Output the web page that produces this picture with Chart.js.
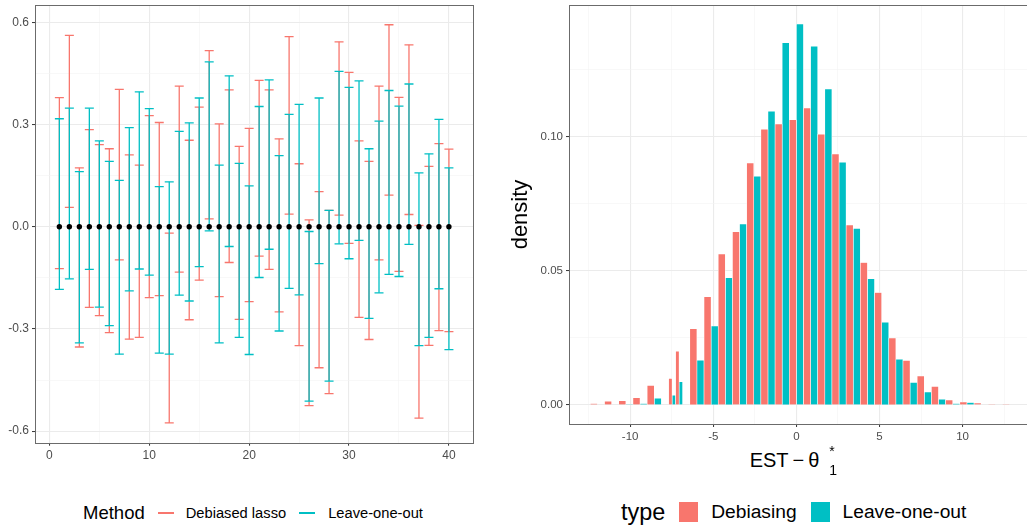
<!DOCTYPE html>
<html><head><meta charset="utf-8">
<script src="https://cdn.jsdelivr.net/npm/chart.js@4"></script>
<style>
html,body{margin:0;padding:0;background:#fff;overflow:hidden;width:1027px;height:527px;}
body{position:relative;font-family:"Liberation Sans",Arial,sans-serif;color:#000;}
canvas{position:absolute;}
#c1{left:0;top:0;}
#c2{left:490px;top:0;}
.leg{position:absolute;display:flex;align-items:center;white-space:nowrap;height:24px;}
.sw-line{display:inline-block;height:1.4px;}
.sw-box{display:inline-block;width:19px;height:20px;}
#xt{position:absolute;left:699px;width:190px;top:450px;text-align:center;font-size:20px;line-height:20px;white-space:nowrap;}
.ss{position:relative;display:inline-block;width:9px;height:20px;vertical-align:top;margin-left:10px;}
.ss .sup{position:absolute;left:0px;top:-6px;font-size:14px;line-height:14px;}
.ss .sub{position:absolute;left:0px;top:13px;font-size:14px;line-height:14px;}
</style></head>
<body>
<canvas id="c1" width="480" height="470"></canvas>
<canvas id="c2" width="560" height="445"></canvas>
<div id="legL" class="leg" style="left:83px;top:501px;"></div>
<div id="legR" class="leg" style="left:621px;top:500px;"></div>
<div id="xt">EST&#8201;&#8722;&#8201;&#952;<span class="ss"><span class="sup">*</span><span class="sub">1</span></span></div>
<script>
// ---------- Left panel data ----------
const pointIndex = [1,2,3,4,5,6,7,8,9,10,11,12,13,14,15,16,17,18,19,20,21,22,23,24,25,26,27,28,29,30,31,32,33,34,35,36,37,38,39,40];
const pointEstimate = [0,0,0,0,0,0,0,0,0,0,0,0,0,0,0,0,0,0,0,0,0,0,0,0,0,0,0,0,0,0,0,0,0,0,0,0,0,0,0,0];
const debiasedLower = [-0.123,0.057,-0.353,-0.237,-0.261,-0.311,-0.097,-0.330,-0.325,-0.208,-0.202,-0.576,-0.133,-0.273,-0.157,0.023,-0.205,-0.105,-0.272,-0.220,-0.086,-0.125,-0.250,0.037,-0.349,-0.525,-0.414,-0.490,0.034,-0.049,-0.266,-0.331,-0.097,0.093,-0.131,0.036,-0.562,-0.348,-0.305,-0.308];
const debiasedUpper = [0.379,0.562,0.173,0.285,0.241,0.229,0.403,0.211,0.181,0.326,0.306,-0.019,0.413,0.254,0.351,0.517,0.302,0.402,0.236,0.289,0.430,0.402,0.258,0.558,0.185,0.020,0.103,0.048,0.543,0.453,0.252,0.192,0.413,0.593,0.380,0.534,0.004,0.177,0.244,0.228];
const looLower = [-0.184,-0.153,-0.341,-0.125,-0.236,-0.290,-0.374,-0.188,-0.124,-0.142,-0.371,-0.374,-0.201,-0.218,-0.117,-0.012,-0.341,-0.058,-0.325,-0.375,-0.149,-0.066,-0.306,-0.181,-0.200,-0.512,-0.108,-0.453,-0.050,-0.094,-0.040,-0.269,-0.194,-0.140,-0.146,-0.052,-0.349,-0.325,-0.182,-0.361];
const looUpper = [0.317,0.348,0.162,0.348,0.252,0.192,0.136,0.291,0.396,0.347,0.118,0.132,0.280,0.305,0.378,0.484,0.181,0.443,0.186,0.120,0.353,0.431,0.209,0.330,0.359,-0.014,0.378,0.048,0.456,0.409,0.428,0.229,0.310,0.400,0.354,0.419,0.158,0.214,0.315,0.173];
const methodNames = ['Debiased lasso','Leave-one-out'];
const leftXMajor = [0,10,20,30,40];
const leftXMinor = [5,15,25,35];
const leftYMajor = [-0.6,-0.3,0,0.3,0.6];
const leftYMinor = [-0.45,-0.15,0.15,0.45];

// ---------- Right panel data ----------
const binCenters = [-11.97,-11.115,-10.26,-9.405,-8.55,-7.695,-6.84,-5.985,-5.13,-4.275,-3.42,-2.565,-1.71,-0.855,0,0.855,1.71,2.565,3.42,4.275,5.13,5.985,6.84,7.695,8.55,9.405,10.26,11.115,11.97,12.825];
const debiasingDensity = [0.0005,0.0014,0.0016,0.0027,0.0073,null,null,0.0284,0.0403,0.0563,0.0646,0.0902,0.1028,0.1047,0.1063,0.1107,0.1009,0.0936,0.0671,0.0531,0.0419,0.0250,0.0166,0.0108,0.0069,0.0019,0.0011,0.0007,0.0002,0.0002];
const looDensity = [0,0,0.0002,0.0005,0.0025,null,null,0.0167,0.0294,0.0474,0.0675,0.0853,0.1095,0.1350,0.1420,0.1337,0.1178,0.0905,0.0658,0.0471,0.0308,0.0170,0.0084,0.0048,0.0021,0.0005,0.0009,0,0,0];
const splitBinCenters = [-7.475,-7.055];
const splitDebiasing = [0.0099,0.0200];
const splitLoo = [0.0036,0.0087];
const typeNames = ['Debiasing','Leave-one-out'];
const rightXMajor = [-10,-5,0,5,10];
const rightXMinor = [-12.5,-7.5,-2.5,2.5,7.5,12.5];
const rightYMajor = [0,0.05,0.10];
const rightYMinor = [0.025,0.075,0.125];

const RED = '#F8766D', TEAL = '#00BFC4';
const FONT = 'Liberation Sans';

function tickSet(major, minor){
  return s => {
    const vals = major.concat(minor).sort((a,b)=>a-b);
    s.ticks = vals.map(v=>({value:v}));
  };
}
function fitTo(prop, size){
  return s => {
    s[prop] = size;
    s.paddingTop = 0; s.paddingBottom = 0; s.paddingLeft = 0; s.paddingRight = 0;
  };
}
function gridFor(major, minor){
  const isMaj = c => c.tick && major.includes(c.tick.value);
  const isMin = c => c.tick && minor.includes(c.tick.value);
  return {
    color: c => isMaj(c) ? '#EBEBEB' : (isMin(c) ? '#F4F4F4' : 'rgba(0,0,0,0)'),
    lineWidth: c => isMaj(c) ? 1.1 : 0.6,
    tickColor: c => isMaj(c) ? '#333333' : 'rgba(0,0,0,0)',
    tickWidth: 1,
    tickLength: 3,
    drawTicks: true,
    offset: false
  };
}
function ticksFor(major, fmt, size){
  return {autoSkip:false, maxRotation:0, minRotation:0, padding:3, color:'#4D4D4D',
    font:{family:FONT, size:size},
    callback: v => major.includes(v) ? fmt(v) : ''};
}
const frame = {
  id:'frame',
  afterDatasetsDraw(chart){
    const {ctx, chartArea:a} = chart;
    ctx.save(); ctx.strokeStyle = '#6b6b6b'; ctx.lineWidth = 1;
    ctx.strokeRect(Math.round(a.left)+0.5, Math.round(a.top)+0.5, Math.round(a.right-a.left), Math.round(a.bottom-a.top));
    ctx.restore();
  }
};

function intervalPoints(lo, hi){
  const pts = [];
  pointIndex.forEach((x,i) => { pts.push({x:x, y:lo[i]}, {x:x, y:hi[i]}, {x:x, y:null}); });
  return pts;
}
function intervalDataset(label, lo, hi, color, order){
  return {type:'line', label:label, data:intervalPoints(lo, hi), borderColor:color, borderWidth:1.3,
    pointStyle:'line', pointRadius:4.5, pointBorderColor:color, pointBorderWidth:1.3, pointBackgroundColor:color,
    pointHoverRadius:4.5, spanGaps:false, tension:0, order:order};
}

new Chart(document.getElementById('c1'), {
  type:'line',
  data:{datasets:[
    {type:'line', label:'estimate', data:pointIndex.map((x,i)=>({x:x, y:pointEstimate[i]})), showLine:false,
      pointRadius:2.7, pointStyle:'circle', pointBackgroundColor:'#000', pointBorderColor:'#000', pointBorderWidth:0, order:0},
    intervalDataset(methodNames[1], looLower, looUpper, TEAL, 1),
    intervalDataset(methodNames[0], debiasedLower, debiasedUpper, RED, 2)
  ]},
  options:{
    responsive:false, animation:false, devicePixelRatio:1,
    layout:{autoPadding:false, padding:{top:5, right:6.7, left:0, bottom:0}},
    plugins:{legend:{display:false}, tooltip:{enabled:false}},
    scales:{
      x:{type:'linear', min:-1.44, max:42.44, offset:false,
        afterBuildTicks:tickSet(leftXMajor, leftXMinor), afterFit:fitTo('height', 27.3),
        grid:gridFor(leftXMajor, leftXMinor), border:{display:false},
        ticks:ticksFor(leftXMajor, v=>String(v), 12)},
      y:{type:'linear', min:-0.634, max:0.651,
        afterBuildTicks:tickSet(leftYMajor, leftYMinor), afterFit:fitTo('width', 35),
        grid:gridFor(leftYMajor, leftYMinor), border:{display:false},
        ticks:ticksFor(leftYMajor, v=>v.toFixed(1), 12)}
    }
  },
  plugins:[frame]
});

function barDs(label, centers, vals, color, stack, thick){
  return {label:label, data:centers.map((x,i)=>({x:x, y:vals[i]})), backgroundColor:color,
    borderColor:'#ffffff', borderWidth:0.6, borderSkipped:'start', stack:stack, barThickness:thick};
}
new Chart(document.getElementById('c2'), {
  type:'bar',
  data:{datasets:[
    barDs(typeNames[0], binCenters, debiasingDensity, RED, 'deb', 7.1),
    barDs(typeNames[1], binCenters, looDensity, TEAL, 'loo', 7.1),
    barDs(typeNames[0], splitBinCenters, splitDebiasing, RED, 'deb', 3.5),
    barDs(typeNames[1], splitBinCenters, splitLoo, TEAL, 'loo', 3.5)
  ]},
  options:{
    responsive:false, animation:false, devicePixelRatio:1,
    layout:{autoPadding:false, padding:{top:5, right:12.1, left:0, bottom:0}},
    plugins:{legend:{display:false}, tooltip:{enabled:false}},
    scales:{
      x:{type:'linear', min:-13.68, max:14.53, offset:false,
        afterBuildTicks:tickSet(rightXMajor, rightXMinor), afterFit:fitTo('height', 21),
        grid:gridFor(rightXMajor, rightXMinor), border:{display:false},
        ticks:ticksFor(rightXMajor, v=>String(v), 11.5)},
      y:{type:'linear', min:-0.0071, max:0.1491, stacked:false, beginAtZero:false,
        afterBuildTicks:tickSet(rightYMajor, rightYMinor), afterFit:fitTo('width', 79),
        grid:gridFor(rightYMajor, rightYMinor), border:{display:false},
        title:{display:true, text:'density', color:'#000', font:{family:FONT, size:22}, padding:{top:18, bottom:0}},
        ticks:ticksFor(rightYMajor, v=>v.toFixed(2), 11.5)}
    }
  },
  plugins:[frame]
});

// ---------- HTML legends ----------
function addText(el, txt, size, mr){
  const s = document.createElement('span'); s.textContent = txt;
  s.style.fontSize = size + 'px'; s.style.marginRight = mr + 'px'; s.style.lineHeight = '24px';
  el.appendChild(s);
}
function addSwatch(el, cls, color, w, mr){
  const s = document.createElement('span'); s.className = cls; s.style.background = color;
  if (w) s.style.width = w + 'px';
  s.style.marginRight = mr + 'px'; el.appendChild(s);
}
const legL = document.getElementById('legL');
addText(legL, 'Method', 18.5, 13);
addSwatch(legL, 'sw-line', RED, 16, 12);
addText(legL, methodNames[0], 14.7, 13);
addSwatch(legL, 'sw-line', TEAL, 16, 13);
addText(legL, methodNames[1], 14.7, 0);

const legR = document.getElementById('legR');
addText(legR, 'type', 23.4, 14);
addSwatch(legR, 'sw-box', RED, 0, 13);
addText(legR, typeNames[0], 19.2, 14);
addSwatch(legR, 'sw-box', TEAL, 0, 13);
addText(legR, typeNames[1], 19.2, 0);
</script>
</body></html>
